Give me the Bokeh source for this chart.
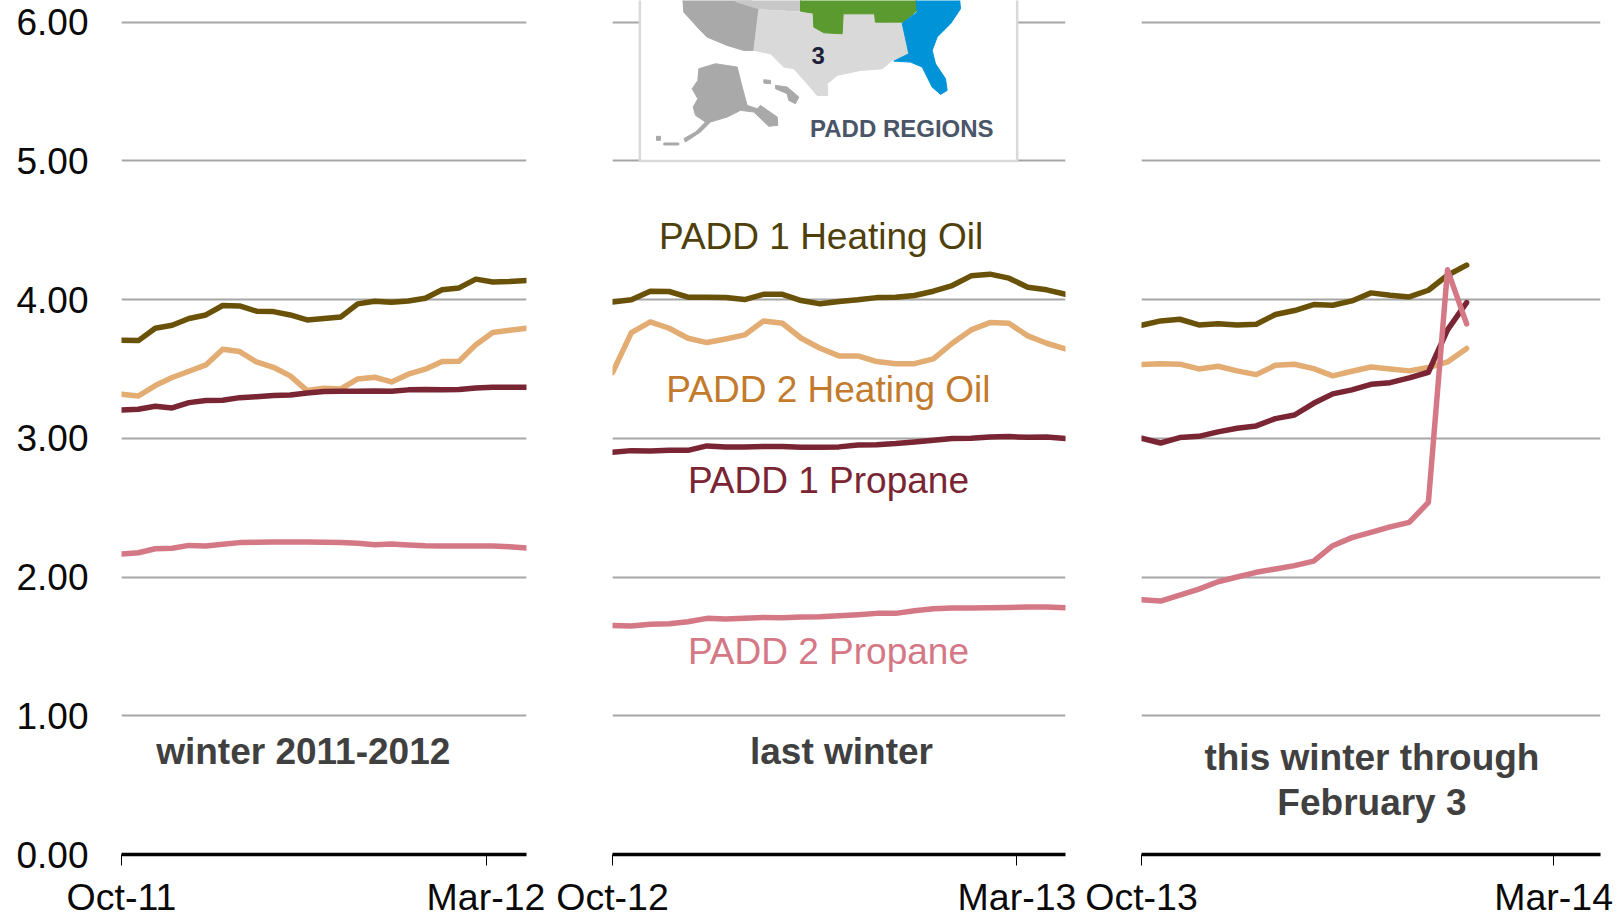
from bokeh.plotting import figure
from bokeh.layouts import row
from bokeh.models import FixedTicker, Label, NumeralTickFormatter, Range1d
from bokeh.embed import file_html
from bokeh.resources import INLINE

y_ticks = [0, 1, 2, 3, 4, 5, 6]

tick_labels_1 = ["Oct-11", "Mar-12"]
tick_labels_2 = ["Oct-12", "Mar-13"]
tick_labels_3 = ["Oct-13", "Mar-14"]

# winter 2011-2012, weekly
ho1_a = [3.707, 3.704, 3.793, 3.815, 3.863, 3.889, 3.957, 3.954, 3.916, 3.913, 3.889, 3.853, 3.863, 3.875, 3.969,
         3.988, 3.981, 3.990, 4.010, 4.070, 4.084, 4.147, 4.127, 4.130, 4.137]
ho2_a = [3.317, 3.305, 3.380, 3.438, 3.483, 3.529, 3.642, 3.625, 3.550, 3.512, 3.450, 3.344, 3.361, 3.356, 3.428,
         3.440, 3.406, 3.462, 3.498, 3.553, 3.555, 3.675, 3.762, 3.779, 3.793]
pr1_a = [3.204, 3.209, 3.231, 3.219, 3.257, 3.272, 3.274, 3.293, 3.300, 3.308, 3.312, 3.327, 3.337, 3.339, 3.339,
         3.341, 3.339, 3.349, 3.351, 3.349, 3.351, 3.363, 3.368, 3.368, 3.368]
pr2_a = [2.166, 2.175, 2.204, 2.207, 2.228, 2.224, 2.236, 2.248, 2.250, 2.252, 2.252, 2.252, 2.250, 2.248, 2.243,
         2.233, 2.238, 2.231, 2.226, 2.224, 2.224, 2.224, 2.224, 2.219, 2.209]

# last winter
ho1_b = [3.983, 3.998, 4.060, 4.058, 4.017, 4.017, 4.014, 4.000, 4.038, 4.038, 3.993, 3.969, 3.986, 3.998, 4.014,
         4.017, 4.029, 4.060, 4.101, 4.171, 4.183, 4.154, 4.089, 4.070, 4.038]
ho2_b = [3.474, 3.762, 3.839, 3.793, 3.721, 3.690, 3.716, 3.745, 3.846, 3.829, 3.721, 3.649, 3.594, 3.594, 3.553,
         3.538, 3.538, 3.572, 3.685, 3.781, 3.834, 3.829, 3.738, 3.685, 3.644]
pr1_b = [2.899, 2.911, 2.909, 2.913, 2.913, 2.945, 2.938, 2.938, 2.940, 2.940, 2.935, 2.935, 2.938, 2.952, 2.954,
         2.962, 2.974, 2.986, 2.998, 3.000, 3.010, 3.012, 3.007, 3.010, 2.998]
pr2_b = [1.651, 1.647, 1.659, 1.663, 1.678, 1.702, 1.697, 1.702, 1.709, 1.707, 1.712, 1.714, 1.721, 1.728, 1.738,
         1.738, 1.757, 1.772, 1.776, 1.776, 1.779, 1.781, 1.784, 1.784, 1.779]

# this winter through February 3
ho1_c = [3.815, 3.846, 3.858, 3.817, 3.825, 3.817, 3.822, 3.892, 3.921, 3.964, 3.959, 3.990, 4.048, 4.031, 4.019,
         4.067, 4.175, 4.248]
ho2_c = [3.531, 3.538, 3.534, 3.500, 3.519, 3.486, 3.459, 3.526, 3.534, 3.502, 3.450, 3.483, 3.514, 3.500, 3.486,
         3.510, 3.550, 3.647]
pr1_c = [3.000, 2.966, 3.005, 3.014, 3.046, 3.072, 3.089, 3.142, 3.168, 3.252, 3.320, 3.349, 3.389, 3.401, 3.435,
         3.476, 3.781, 3.978]
pr2_c = [1.837, 1.827, 1.870, 1.913, 1.966, 2.000, 2.034, 2.058, 2.082, 2.115, 2.226, 2.284, 2.322, 2.361, 2.394,
         2.538, 4.214, 3.825]

FONT = "Liberation Sans"
SIZE = "37px"
C_HO1, C_HO2, C_PR1, C_PR2 = "#695207", "#E3AC72", "#7A2533", "#D47886"
UNIT = 138.9
FRAME_H = 855
Y_END = FRAME_H / UNIT
BOTTOM = 65
N_WEEKS = 24


def panel(width, left, right, tick, labels, series, show_y):
    p = figure(width=width, height=FRAME_H + BOTTOM, output_backend="svg", toolbar_location=None,
               x_range=Range1d(0, N_WEEKS), y_range=Range1d(0, Y_END),
               min_border_left=left, min_border_right=right, min_border_top=0, min_border_bottom=BOTTOM)
    p.outline_line_color = None
    p.background_fill_color = "white"
    p.border_fill_color = "white"
    p.xgrid.visible = False
    p.ygrid.ticker = FixedTicker(ticks=y_ticks)
    p.ygrid.grid_line_color = "#A6A6A6"
    p.ygrid.grid_line_width = 2

    ax = p.xaxis[0]
    ax.ticker = FixedTicker(ticks=[0, tick])
    ax.major_label_overrides = {0: labels[0], tick: labels[1]}
    ax.axis_line_color = "black"
    ax.axis_line_width = 3.5
    ax.major_tick_in = 0
    ax.major_tick_out = 11
    ax.major_tick_line_color = "black"
    ax.major_tick_line_width = 1
    ax.minor_tick_line_color = None
    ax.major_label_text_font = FONT
    ax.major_label_text_font_size = "37.5px"
    ax.major_label_text_color = "#0a0a0a"
    ax.major_label_standoff = 10

    ay = p.yaxis[0]
    ay.ticker = FixedTicker(ticks=y_ticks)
    ay.formatter = NumeralTickFormatter(format="0.00")
    ay.axis_line_color = None
    ay.major_tick_line_color = None
    ay.minor_tick_line_color = None
    ay.major_label_text_font = FONT
    ay.major_label_text_font_size = SIZE
    ay.major_label_text_color = "#0a0a0a"
    ay.major_label_standoff = 27
    ay.visible = show_y

    for ys, c in zip(series, (C_HO1, C_HO2, C_PR1, C_PR2)):
        p.line(list(range(len(ys))), ys, line_color=c, line_width=5.5, line_cap="round", line_join="round")
    return p


def note(p, x, y, text, color, bold=False):
    p.add_layout(Label(x=x, y=y, y_offset=13, text=text, text_font=FONT, text_font_size=SIZE, text_color=color,
                       text_align="center", text_baseline="alphabetic",
                       text_font_style="bold" if bold else "normal"))


p1 = panel(552, 121, 26, 21.6, tick_labels_1, (ho1_a, ho2_a, pr1_a, pr2_a), True)
p2 = panel(530, 60, 17, 21.43, tick_labels_2, (ho1_b, ho2_b, pr1_b, pr2_b), False)
p3 = panel(541, 59, 23, 21.55, tick_labels_3, (ho1_c, ho2_c, pr1_c, pr2_c), False)

note(p2, 11.05, 4.361, "PADD 1 Heating Oil", "#4F3F0A")
note(p2, 11.44, 3.259, "PADD 2 Heating Oil", "#C27A2C")
note(p2, 11.44, 2.604, "PADD 1 Propane", "#7A2533")
note(p2, 11.44, 1.372, "PADD 2 Propane", "#D47886")

note(p1, 10.77, 0.648, "winter 2011-2012", "#404040", True)
note(p2, 12.13, 0.648, "last winter", "#404040", True)
note(p3, 12.05, 0.605, "this winter through", "#404040", True)
note(p3, 12.05, 0.284, "February 3", "#404040", True)


# PADD regions inset: a small map sketched in panel 2
def mx(X):
    return ((620 + X / 3) - 612) / 453 * N_WEEKS


def my(Y):
    return (855 - Y / 3) / UNIT


def shape(points, color):
    p2.patch([mx(a) for a, b in points], [my(b) for a, b in points], fill_color=color, line_color=color, line_width=1)


p2.quad(left=mx(58), right=mx(1190), top=6.3, bottom=my(482), fill_color="white",
        line_color="#D9D9D9", line_width=2.5)

GREY, MID, LIGHT = "#A9A9A9", "#C8C8C8", "#D9D9D9"
shape([(185, -30), (345, -30), (415, 15), (400, 150), (370, 150), (320, 135), (260, 110), (235, 85), (190, 35)], GREY)
shape([(345, -30), (540, -30), (540, 32), (415, 25), (345, 3)], MID)
shape([(415, 28), (540, 35), (578, 38), (580, 80), (610, 97), (665, 100), (668, 40), (762, 40), (765, 65), (845, 68),
       (865, 160), (815, 180), (785, 205), (720, 210), (650, 225), (620, 250), (622, 285), (590, 285), (560, 250),
       (520, 205), (490, 200), (450, 160), (400, 150)], LIGHT)
shape([(540, -30), (885, -30), (890, 30), (850, 65), (765, 65), (762, 40), (668, 40), (665, 100), (610, 97), (580, 80),
       (578, 38), (540, 32)], "#5B9A2F")
shape([(885, -30), (1015, -30), (1020, 25), (990, 70), (950, 110), (935, 150), (945, 190), (975, 235), (980, 270),
       (960, 282), (935, 260), (905, 200), (870, 185), (820, 182), (865, 160), (845, 68), (890, 35)], "#0093D8")
shape([(235, 205), (285, 190), (350, 200), (365, 260), (380, 315), (410, 325), (420, 315), (470, 350), (472, 375),
       (445, 378), (400, 335), (360, 330), (320, 350), (270, 365), (240, 395), (195, 425), (190, 415), (225, 395),
       (255, 365), (225, 345), (218, 320), (232, 295), (215, 265), (232, 240)], GREY)
shape([(430, 238), (450, 240), (450, 250), (430, 248)], GREY)
shape([(465, 255), (500, 260), (535, 290), (525, 310), (505, 300), (500, 280), (465, 265)], GREY)
shape([(108, 408), (120, 408), (120, 420), (108, 420)], GREY)
shape([(130, 428), (175, 428), (175, 434), (130, 434)], GREY)

p2.add_layout(Label(x=mx(593), y=my(190), y_offset=8.5, text="3", text_font=FONT, text_font_size="24px",
                    text_font_style="bold", text_color="#1f1f3a", text_align="center", text_baseline="alphabetic"))
p2.add_layout(Label(x=mx(844), y=my(410), y_offset=8.5, text="PADD REGIONS", text_font=FONT, text_font_size="24px",
                    text_font_style="bold", text_color="#4A5568", text_align="center", text_baseline="alphabetic"))

layout = row(p1, p2, p3, spacing=0)
open("out.html", "w").write(file_html(layout, INLINE))
